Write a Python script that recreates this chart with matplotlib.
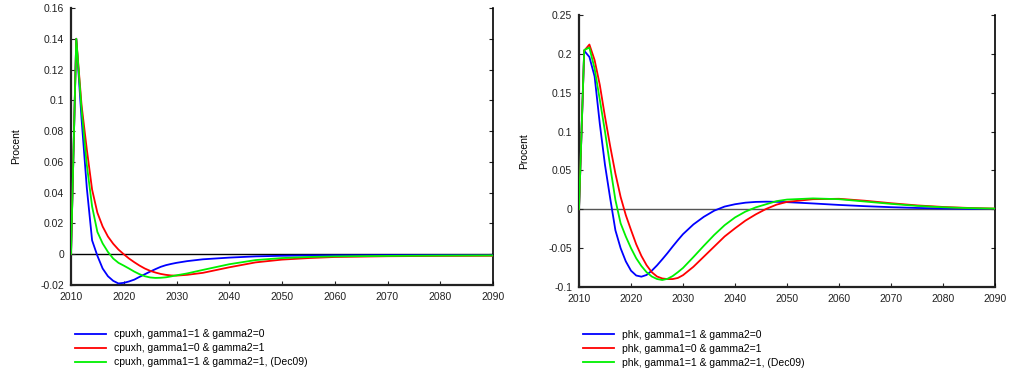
import matplotlib
matplotlib.use("Agg")
import matplotlib.pyplot as plt
from matplotlib.ticker import FuncFormatter

plt.rcParams['font.family'] = ['Liberation Sans', 'DejaVu Sans']

# left panel: cpuxh
years_left = list(range(2010, 2031)) + [2032, 2035, 2040, 2045, 2050, 2055, 2060, 2070, 2080, 2090]
cpuxh_g1 = [0, 0.14, 0.088, 0.043, 0.009, -0.001, -0.0093, -0.0143, -0.0173, -0.019, -0.0186,
            -0.0177, -0.0165, -0.0147, -0.013, -0.0113, -0.0097, -0.0082, -0.0071, -0.0063, -0.0056,
            -0.0045, -0.0033, -0.0022, -0.0014, -0.001, -0.0008, -0.0007, -0.0006, -0.0006, -0.0006]
cpuxh_g2 = [0, 0.14, 0.097, 0.068, 0.042, 0.027, 0.018, 0.0115, 0.0068, 0.003, 0.0,
            -0.0028, -0.0052, -0.0074, -0.0093, -0.0108, -0.0119, -0.0128, -0.0134, -0.0138, -0.0139,
            -0.0134, -0.0121, -0.0085, -0.0053, -0.0035, -0.0025, -0.0018, -0.0013, -0.0011, -0.001]
cpuxh_dec09 = [0, 0.14, 0.094, 0.058, 0.031, 0.0145, 0.007, 0.0015, -0.0028, -0.0056, -0.0074,
               -0.0093, -0.0113, -0.013, -0.0143, -0.0151, -0.0154, -0.0153, -0.015, -0.0144, -0.0137,
               -0.0125, -0.0102, -0.0065, -0.0038, -0.0025, -0.0018, -0.0014, -0.0011, -0.0009, -0.0008]

# right panel: phk
years_right = list(range(2010, 2031)) + [2032, 2034, 2036, 2038, 2040, 2042, 2044, 2046, 2048,
                                         2050, 2055, 2060, 2065, 2070, 2075, 2080, 2085, 2090]
phk_g1 = [0, 0.204, 0.196, 0.171, 0.11, 0.057, 0.014, -0.027, -0.050, -0.067, -0.079,
          -0.0852, -0.0867, -0.0845, -0.079, -0.0722, -0.0645, -0.0565, -0.048, -0.0398, -0.032,
          -0.0195, -0.0097, -0.0018, 0.0035, 0.0065, 0.0085, 0.0095, 0.0098, 0.0096,
          0.0092, 0.0075, 0.0056, 0.004, 0.0027, 0.0017, 0.001, 0.0006, 0.0004]
phk_g2 = [0, 0.204, 0.212, 0.192, 0.16, 0.119, 0.081, 0.046, 0.016, -0.0075, -0.0266,
          -0.045, -0.060, -0.072, -0.081, -0.0865, -0.089, -0.0898, -0.0898, -0.0884, -0.0848,
          -0.074, -0.061, -0.048, -0.035, -0.0245, -0.0146, -0.0065, 0.0005, 0.006,
          0.0095, 0.013, 0.0135, 0.011, 0.0078, 0.005, 0.003, 0.0017, 0.0009]
phk_dec09 = [0, 0.205, 0.208, 0.181, 0.141, 0.10, 0.055, 0.012, -0.018, -0.035, -0.050,
             -0.063, -0.073, -0.081, -0.0865, -0.0897, -0.091, -0.0895, -0.086, -0.081, -0.0755,
             -0.0615, -0.047, -0.033, -0.0205, -0.0105, -0.003, 0.0025, 0.0065, 0.0105,
             0.0125, 0.014, 0.013, 0.010, 0.007, 0.0044, 0.0026, 0.0015, 0.0009]

labels_left = ["cpuxh, gamma1=1 & gamma2=0", "cpuxh, gamma1=0 & gamma2=1",
               "cpuxh, gamma1=1 & gamma2=1, (Dec09)"]
labels_right = ["phk, gamma1=1 & gamma2=0", "phk, gamma1=0 & gamma2=1",
                "phk, gamma1=1 & gamma2=1, (Dec09)"]
yticks_left = [-0.02, 0, 0.02, 0.04, 0.06, 0.08, 0.1, 0.12, 0.14, 0.16]
yticks_right = [-0.1, -0.05, 0, 0.05, 0.1, 0.15, 0.2, 0.25]
xticks = list(range(2010, 2091, 10))

colors = ['#0000ff', '#ff0000', '#00f000']


def style_axes(ax, yticks, zero_color):
    ax.axhline(0, color=zero_color, lw=1.0, zorder=1)
    ax.set_xlim(2010, 2090)
    ax.set_ylim(yticks[0], yticks[-1])
    ax.set_xticks(xticks)
    ax.set_yticks(yticks)
    ax.yaxis.set_major_formatter(FuncFormatter(lambda v, p: "%g" % round(v, 3)))
    ax.spines['top'].set_visible(False)
    for s in ['left', 'bottom']:
        ax.spines[s].set_linewidth(1.6)
        ax.spines[s].set_color('#222222')
    ax.spines['right'].set_linewidth(1.2)
    ax.tick_params(direction='in', length=3, width=0.8, labelsize=7.5, pad=5,
                   right=True, colors='#222222')
    ax.set_ylabel("Procent", fontsize=7.5, labelpad=14)


fig = plt.figure(figsize=(10.19, 3.78), dpi=100)

ax1 = fig.add_axes([71 / 1019, 1 - 285 / 378, 422 / 1019, 277 / 378])
for vals, c, lab in zip([cpuxh_g1, cpuxh_g2, cpuxh_dec09], colors, labels_left):
    ax1.plot(years_left, vals, color=c, lw=1.3, label=lab, zorder=3)
style_axes(ax1, yticks_left, 'black')
ax1.legend(loc='upper left', bbox_to_anchor=(0.0, -0.145), frameon=False, fontsize=7.5,
           handlelength=3.0, handletextpad=0.7, labelspacing=0.38, borderaxespad=0)

ax2 = fig.add_axes([579 / 1019, 1 - 287 / 378, 416 / 1019, 272 / 378])
for vals, c, lab in zip([phk_g1, phk_g2, phk_dec09], colors, labels_right):
    ax2.plot(years_right, vals, color=c, lw=1.3, label=lab, zorder=3)
style_axes(ax2, yticks_right, '#555555')
ax2.legend(loc='upper left', bbox_to_anchor=(0.0, -0.143), frameon=False, fontsize=7.5,
           handlelength=3.0, handletextpad=0.7, labelspacing=0.38, borderaxespad=0)

fig.savefig("out.png", dpi=100)
